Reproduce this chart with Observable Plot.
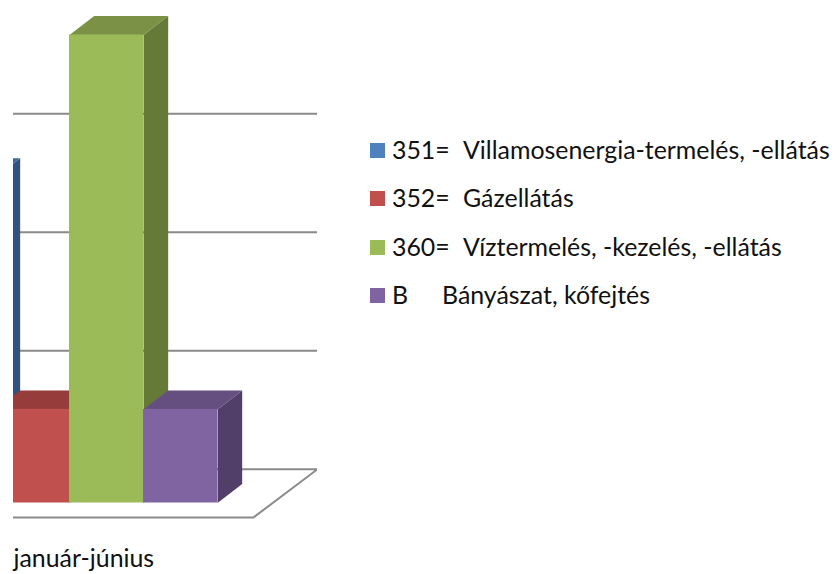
<!DOCTYPE html>
<html>
<head>
<meta charset="utf-8">
<script src="https://cdn.jsdelivr.net/npm/d3@7"></script>
<script src="https://cdn.jsdelivr.net/npm/@observablehq/plot@0.6"></script>
<style>
  html, body { margin: 0; padding: 0; background: #fff; overflow: hidden; }
  #chart { position: relative; width: 835px; height: 574px; font-family: Lato, sans-serif; }
  #chart svg { display: block; position: absolute; left: 0; top: 0; }
  .row { position: absolute; left: 370px; height: 30px; font-size: 24.9px; line-height: 30px; color: #111; white-space: nowrap; }
  .row i { position: absolute; left: 0; top: 7.5px; width: 15px; height: 15px; }
  .row span { position: absolute; top: -1.5px; }
</style>
</head>
<body>
<div id="chart"></div>
<script>
const categories = ["január-június"];
const codes = ["351=", "352=", "360=", "B"];
const names = ["Villamosenergia-termelés, -ellátás", "Gázellátás", "Víztermelés, -kezelés, -ellátás", "Bányászat, kőfejtés"];
const values = [27.5, 7.9, 39.5, 7.9];
const gridValues = [0, 10, 20, 30];
const frontColors = ["#4f81bd", "#c0504d", "#9bbb59", "#8064a2"];
const topColors = ["#3f6797", "#963d3b", "#7a9146", "#654f80"];
const sideColors = ["#2f5480", "#7d3230", "#667a38", "#523f69"];

// Oblique projection, in scale units
const depthX = 0.333, depthY = 1.6;       // bar depth
const wallY = 2.85;                       // rise of the back wall's baseline
const floorFrontY = -1.22;                // front edge of the floor
const floorFrontX = 4.486;                // front-right corner of the floor
const xDomain = [1.243, 5.351];
const yDomain = [-1.814, 42.405];

const marks = [];
const gridStyle = {stroke: "#8a8a8a", strokeWidth: 2, clip: true};
for (const g of gridValues.slice(1)) {
  marks.push(Plot.line([[xDomain[0], g + wallY], [xDomain[1], g + wallY]], gridStyle));
}
marks.push(Plot.line([
  [xDomain[0], floorFrontY], [floorFrontX, floorFrontY],
  [xDomain[1], wallY], [3.5, wallY]
], gridStyle));

values.forEach((v, i) => {
  const l = i, r = i + 1;
  marks.push(Plot.line([[r, 0], [r + depthX, depthY], [r + depthX, v + depthY], [r, v]],
    {fill: sideColors[i], stroke: "none", clip: true}));
  marks.push(Plot.line([[l, v], [l + depthX, v + depthY], [r + depthX, v + depthY], [r, v]],
    {fill: topColors[i], stroke: "none", clip: true}));
  marks.push(Plot.rectY([{l, r, v}],
    {x1: "l", x2: "r", y1: 0, y2: "v", fill: frontColors[i], clip: true, inset: 0}));
});

marks.push(Plot.text(categories, {
  text: d => d, frameAnchor: "bottom-left", textAnchor: "start", lineAnchor: "middle",
  dy: 35, fontSize: 24.9, fill: "#111"
}));

const svg = Plot.plot({
  width: 835, height: 574,
  marginLeft: 13, marginRight: 518, marginTop: 0, marginBottom: 50,
  style: {fontFamily: "Lato, sans-serif", background: "transparent", overflow: "visible"},
  x: {domain: xDomain, axis: null},
  y: {domain: yDomain, axis: null},
  marks
});

const chart = document.getElementById("chart");
chart.appendChild(svg);
const descLeft = [93, 93, 93, 72];
codes.forEach((c, i) => {
  const row = document.createElement("div");
  row.className = "row";
  row.style.top = (135 + i * 48.5) + "px";
  row.innerHTML = `<i style="background:${frontColors[i]}"></i><span style="left:22px">${c}</span><span style="left:${descLeft[i]}px">${names[i]}</span>`;
  chart.appendChild(row);
});
</script>
</body>
</html>
